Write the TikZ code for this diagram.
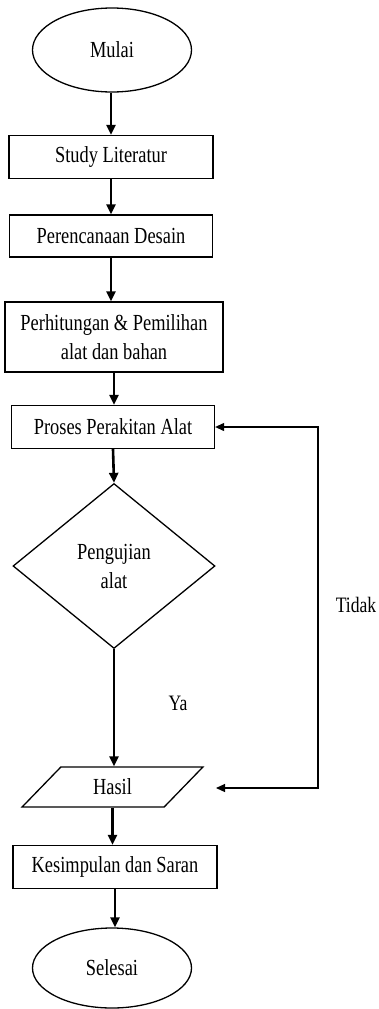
\documentclass[tikz,border=0pt]{standalone}
\usepackage{fontspec}
\setmainfont{Liberation Serif}[FakeStretch=0.8]
\usetikzlibrary{shapes.geometric,arrows.meta}
\begin{document}
\begin{tikzpicture}[x=1pt,y=-1pt,
  every node/.style={font=\fontsize{23}{29}\selectfont, inner sep=0pt, line width=1.3pt},
  term/.style={draw, ellipse, minimum width=159pt},
  proc/.style={draw, rectangle, minimum height=43pt, align=center},
  dec/.style={draw, diamond, minimum width=202pt, minimum height=165pt, align=center},
  io/.style={draw, trapezium, trapezium left angle=48, trapezium right angle=132, trapezium stretches=true, minimum width=181pt, minimum height=40pt},
  flow/.style={line width=2.6pt, -{Triangle[length=10pt,width=9pt]}},
  back/.style={line width=1.1pt, {Triangle[length=9pt,width=8pt]}-{Triangle[length=9pt,width=8pt]}},
  lbl/.style={font=\fontsize{22}{24}\selectfont}]
\useasboundingbox (0,0) rectangle (379,1009);
\node[term, minimum height=84pt] (mulai) at (112,50) {Mulai};
\node[proc, minimum width=204pt] (study) at (111,157) {Study Literatur};
\node[proc, minimum width=203pt, minimum height=42pt] (desain) at (111,236) {Perencanaan Desain};
\node[proc, minimum width=218pt, minimum height=70pt] (hitung) at (114,337) {Perhitungan \& Pemilihan\\alat dan bahan};
\node[proc, minimum width=203pt] (proses) at (113,427) {Proses Perakitan Alat};
\node[dec] (uji) at (114,566) {Pengujian\\alat};
\node[io] (hasil) at (112.5,787) {Hasil};
\node[proc, minimum width=204pt] (simpul) at (115,867) {Kesimpulan dan Saran};
\node[term, minimum height=80pt] (selesai) at (112,968) {Selesai};
\node[lbl] (tidak) at (356,605) {Tidak};
\node[lbl] (ya) at (178,703) {Ya};
\coordinate (ha) at (216,788);
\coordinate (fb1) at (318,788);
\coordinate (fb2) at (318,427);
\draw[flow] (mulai.south -| study.north) -- (study.north);
\draw[flow] (study.south) -- (desain.north);
\draw[flow] (desain.south) -- (desain.south |- hitung.north);
\draw[flow] (hitung.south) -- (hitung.south |- proses.north);
\draw[flow] (proses.south) -- (uji.north);
\draw[flow] (uji.south) -- (uji.south |- hasil.north);
\draw[flow] (hasil.south) -- (hasil.south |- simpul.north);
\draw[flow] (simpul.south) -- (simpul.south |- selesai.north);
\draw[back] (ha) -- (fb1) -- (fb2) -- (proses.east);
\end{tikzpicture}
\end{document}
